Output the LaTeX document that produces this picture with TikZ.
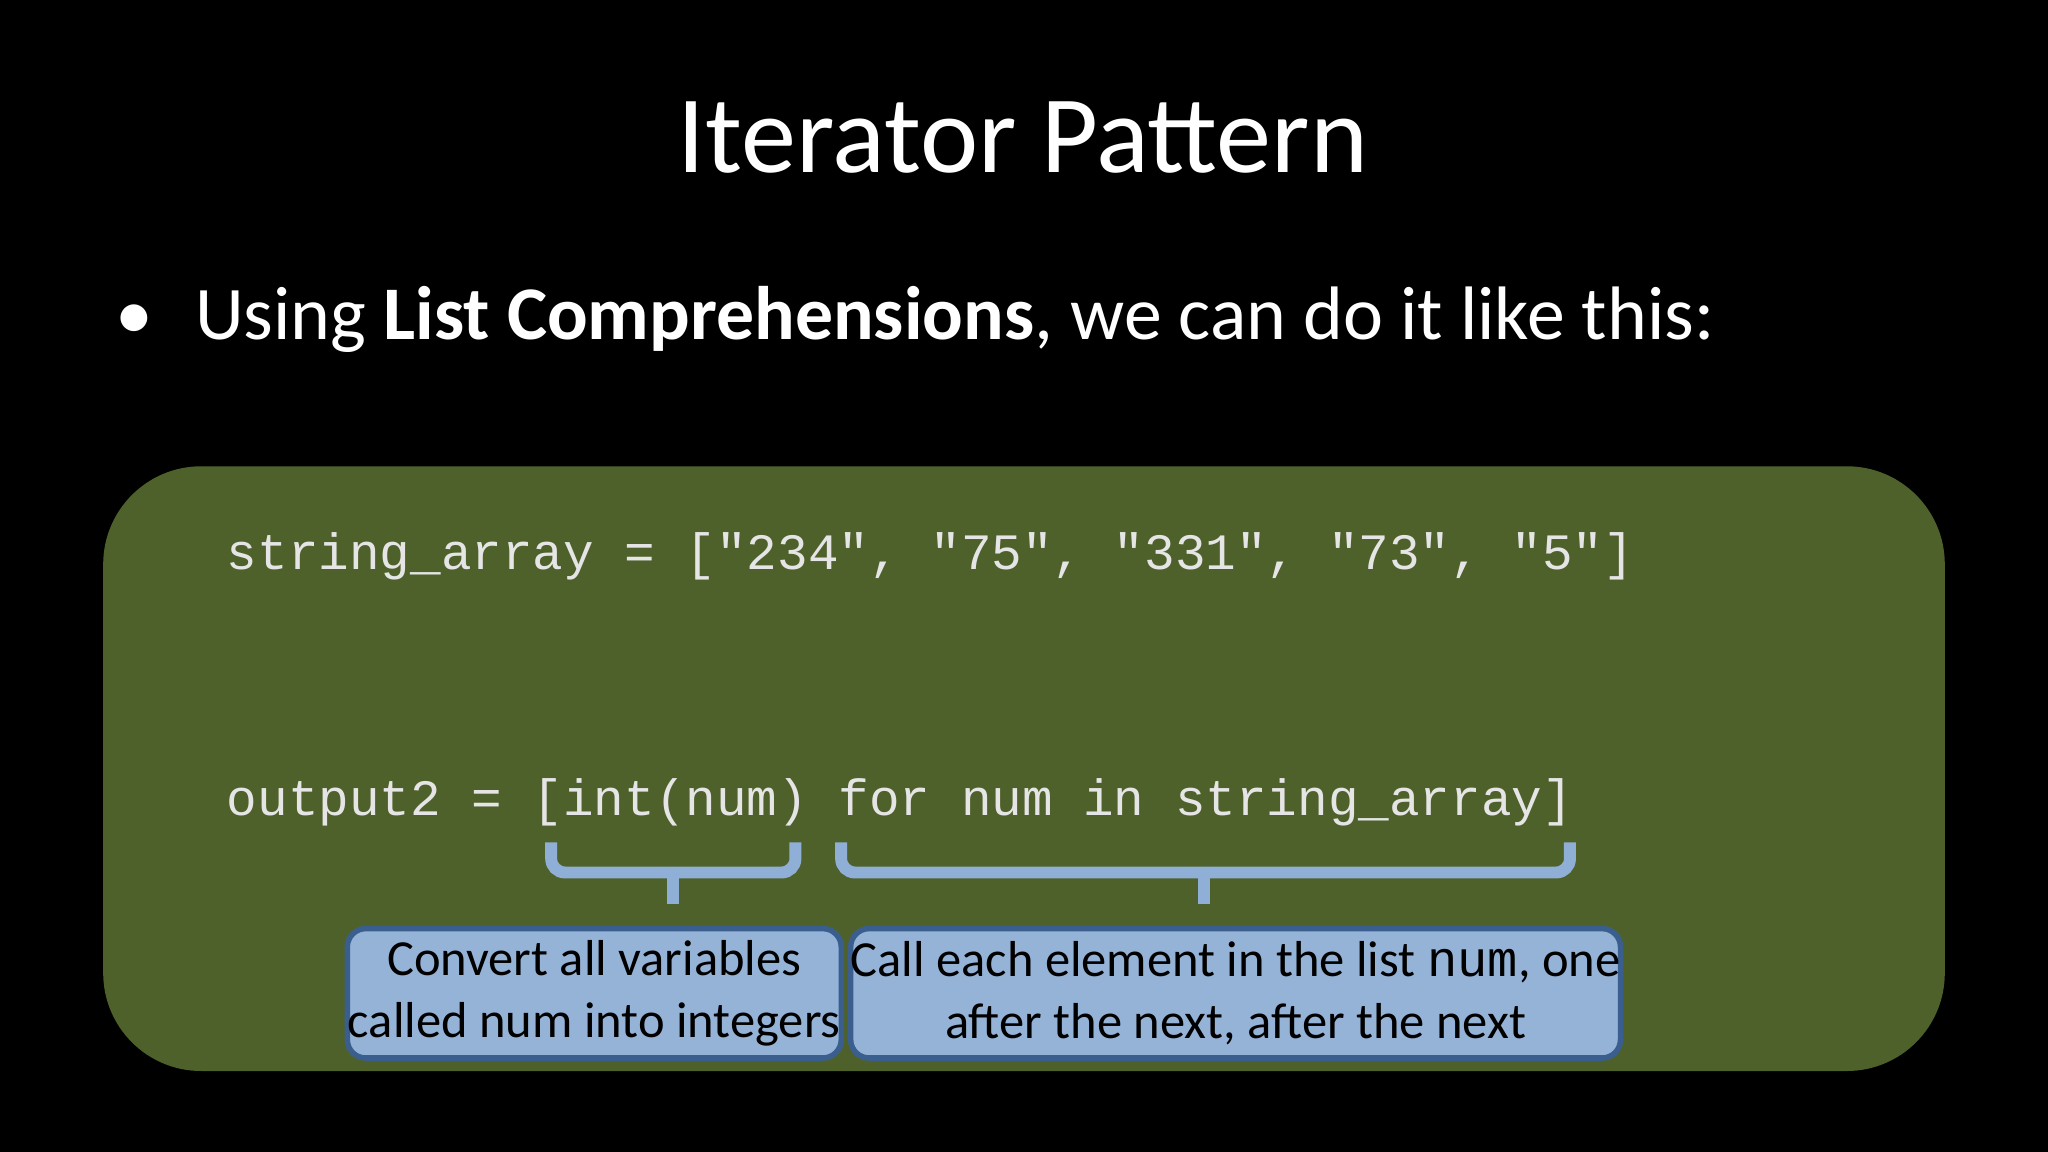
\documentclass[tikz,border=0pt]{standalone}
\usepackage{fontspec}
\setmainfont{Carlito}
\newfontfamily\codefont{Liberation Mono}
\definecolor{panelgreen}{HTML}{4F612B}
\definecolor{boxblue}{HTML}{95B3D7}
\definecolor{boxedge}{HTML}{3A5F8F}
\definecolor{bracecol}{HTML}{8FAFD6}
\tikzset{
  infobox/.style={draw=boxedge, line width=1.2pt, fill=boxblue, rounded corners=4pt, align=center, font=\fontsize{11}{13.5}\selectfont, text=black, inner sep=0pt},
  codetext/.style={anchor=base west, text=white!90!black, font=\codefont\fontsize{11.1}{13}\selectfont, inner sep=0pt},
  bracestyle/.style={draw=bracecol, line width=2.6pt, rounded corners=3pt},
}
\begin{document}
\begin{tikzpicture}[x=0.01cm,y=-0.01cm]
\fill[black] (0,0) rectangle (1568,882);
\useasboundingbox (0,0) rectangle (1568,882);
\node[text=white, font=\fontsize{24}{28}\selectfont, anchor=base] (title) at (783,132) {Iterator Pattern};
\node[text=white, font=\fontsize{16.5}{20}\selectfont, anchor=base west, inner sep=0pt] (bullet) at (88,260) {\textbullet\hspace{0.55em}Using \textbf{List Comprehensions}, we can do it like this:};
\fill[panelgreen, rounded corners=0.75cm] (79,357) rectangle (1489,820);
\node[codetext] (line1) at (173,436) {string\_array = ["234", "75", "331", "73", "5"]};
\node[codetext] (line2) at (173,624) {output2 = [int(num) for num in string\_array]};
\draw[bracestyle] (422,645) -- (422,668) -- (515,668) -- (609,668) -- (609,645);
\draw[bracestyle] (515,668) -- (515,692);
\draw[bracestyle] (644,645) -- (644,668) -- (922,668) -- (1202,668) -- (1202,645);
\draw[bracestyle] (922,668) -- (922,692);
\node[infobox, minimum width=3.78cm, minimum height=0.99cm] (boxa) at (455,760.5) {Convert all variables\\called num into integers};
\node[infobox, minimum width=5.64cm, minimum height=0.99cm] (boxb) at (946,760.5) {Call each element in the list {\codefont num}, one\\after the next, after the next};
\end{tikzpicture}
\end{document}
